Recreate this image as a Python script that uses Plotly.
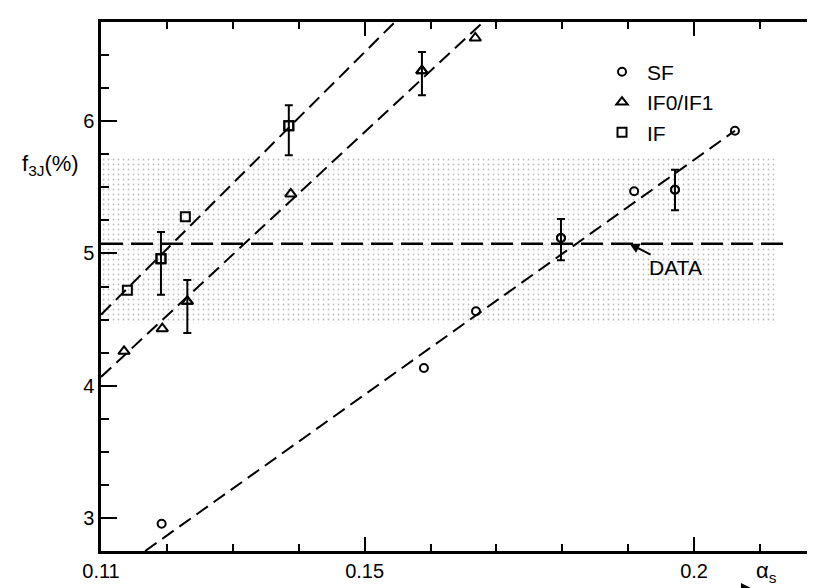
import plotly.graph_objects as go

# ---- data ----
sf_x = [0.1192, 0.1590, 0.1669, 0.1798, 0.1909, 0.1971, 0.2062]
sf_y = [2.956, 4.134, 4.563, 5.117, 5.470, 5.482, 5.928]
sf_err_up = [None, None, None, 0.143, None, 0.151, None]
sf_err_dn = [None, None, None, 0.169, None, 0.156, None]

if01_x = [0.1135, 0.1193, 0.1231, 0.1388, 0.1587, 0.1668]
if01_y = [4.260, 4.431, 4.638, 5.450, 6.382, 6.629]
if01_err_up = [None, None, 0.162, None, 0.141, None]
if01_err_dn = [None, None, 0.240, None, 0.186, None]

if_x = [0.1140, 0.1191, 0.1228, 0.1385]
if_y = [4.721, 4.960, 5.278, 5.966]
if_err_up = [None, 0.202, None, 0.154]
if_err_dn = [None, 0.272, None, 0.224]

# dashed fit lines (end points)
sf_fit_x = [0.1167, 0.2062]
sf_fit_y = [2.75, 5.928]
if01_fit_x = [0.110, 0.168]
if01_fit_y = [4.066, 6.75]
if_fit_x = [0.110, 0.1546]
if_fit_y = [4.537, 6.75]

data_value = 5.074
data_x = [0.110, 0.2138]
band_lo = 4.47
band_hi = 5.727
band_x = [0.110, 0.2122]

x_range = [0.110, 0.21956]
y_range = [2.75, 6.75]
x_tickvals = [0.11, 0.15, 0.2]
x_ticktext = ["0.11", "0.15", "0.2"]
x_minor = [0.12, 0.13, 0.14, 0.16, 0.17, 0.18, 0.19, 0.21]
y_tickvals = [3, 4, 5, 6]
y_ticktext = ["3", "4", "5", "6"]
y_minor = [2.75, 3.25, 3.5, 3.75, 4.25, 4.5, 4.75, 5.25, 5.5, 5.75, 6.25, 6.5, 6.75]

FONT = "Liberation Sans"
fig = go.Figure()

# stippled band
fig.add_trace(go.Scatter(
    x=[band_x[0], band_x[1], band_x[1], band_x[0], band_x[0]],
    y=[band_lo, band_lo, band_hi, band_hi, band_lo],
    fill="toself", mode="none", fillcolor="rgba(0,0,0,0)",
    fillpattern=dict(shape=".", fgcolor="#a0a0a0", bgcolor="rgba(0,0,0,0)",
                     fgopacity=0.7, size=5, solidity=0.1),
    showlegend=False, hoverinfo="skip"))

# DATA line (on y2 so the right-hand tick axis is rendered)
fig.add_trace(go.Scatter(x=data_x, y=[data_value, data_value], mode="lines",
                         line=dict(color="black", width=2.5, dash="22px,8px"),
                         yaxis="y2", showlegend=False, hoverinfo="skip"))

# fit lines
for fx, fy in [(sf_fit_x, sf_fit_y), (if01_fit_x, if01_fit_y), (if_fit_x, if_fit_y)]:
    fig.add_trace(go.Scatter(x=fx, y=fy, mode="lines",
                             line=dict(color="black", width=2, dash="14px,7px"),
                             showlegend=False, hoverinfo="skip"))

series = [
    ("SF", sf_x, sf_y, sf_err_up, sf_err_dn, "circle-open", 8),
    ("IF0/IF1", if01_x, if01_y, if01_err_up, if01_err_dn, "triangle-up-open", 10),
    ("IF", if_x, if_y, if_err_up, if_err_dn, "square-open", 9),
]
for name, xs, ys, eu, ed, sym, sz in series:
    idx = [i for i, e in enumerate(eu) if e is not None]
    fig.add_trace(go.Scatter(
        x=[xs[i] for i in idx], y=[ys[i] for i in idx], mode="markers",
        marker=dict(symbol=sym, size=sz, color="black", line=dict(width=2, color="black")),
        error_y=dict(type="data", symmetric=False,
                     array=[eu[i] for i in idx], arrayminus=[ed[i] for i in idx],
                     color="black", thickness=2, width=4),
        showlegend=False, hoverinfo="skip"))
    fig.add_trace(go.Scatter(
        x=xs, y=ys, mode="markers", name=name, legendgroup=name,
        marker=dict(symbol=sym, size=sz, color="black", line=dict(width=2, color="black"))))

axis_common = dict(showgrid=False, zeroline=False, ticks="inside", tickcolor="black",
                   tickwidth=2, linecolor="black", linewidth=2.5, automargin=False,
                   tickfont=dict(family=FONT, size=20, color="black"))

fig.update_layout(
    template="none",
    width=815, height=588,
    margin=dict(l=93, r=0, t=14, b=45, autoexpand=False),
    paper_bgcolor="white", plot_bgcolor="white",
    font=dict(family=FONT, size=20, color="black"),
    xaxis=dict(range=x_range, tickmode="array", tickvals=x_tickvals, ticktext=x_ticktext,
               ticklen=14, showline=True, mirror="ticks",
               minor=dict(tickmode="array", tickvals=x_minor, ticks="inside", ticklen=7,
                          tickwidth=2, tickcolor="black"),
               **axis_common),
    yaxis=dict(range=y_range, tickmode="array", tickvals=y_tickvals, ticktext=y_ticktext,
               ticklen=16, showline=True,
               minor=dict(tickmode="array", tickvals=y_minor, ticks="inside", ticklen=8,
                          tickwidth=2, tickcolor="black"),
               **axis_common),
    yaxis2=dict(range=y_range, overlaying="y", side="right", showline=False,
                showgrid=False, zeroline=False, ticks="inside", ticklen=12, tickwidth=2,
                tickcolor="black", tickmode="array", tickvals=y_tickvals,
                showticklabels=False, automargin=False,
                minor=dict(tickmode="array", tickvals=y_minor, ticks="inside", ticklen=5,
                           tickwidth=2, tickcolor="black")),
    legend=dict(x=0.687, y=0.944, xanchor="left", yanchor="top",
                traceorder="grouped", tracegroupgap=0, itemwidth=40,
                bgcolor="rgba(0,0,0,0)", font=dict(family=FONT, size=21, color="black")),
    annotations=[
        dict(x=0.1902, y=data_value, xref="x", yref="y", text="DATA",
             showarrow=True, ax=46, ay=24, arrowhead=2, arrowsize=1, arrowwidth=2,
             arrowcolor="black", font=dict(family=FONT, size=21, color="black")),
        dict(x=-0.0706, y=0.7297, xref="paper", yref="paper",
             xanchor="center", yanchor="middle",
             text="f<sub>3J</sub>(%)", showarrow=False,
             font=dict(family=FONT, size=22, color="black")),
        # arrow under the x axis pointing at the axis title
        dict(x=0.903, y=-0.0718, xref="paper", yref="paper",
             text="", showarrow=True, ax=-68, ay=0,
             arrowhead=2, arrowsize=1.2, arrowwidth=2, arrowcolor="black"),
        dict(x=0.9044, y=-0.0397, xref="paper", yref="paper",
             xanchor="left", yanchor="middle", text="α<sub>s</sub>", showarrow=False,
             font=dict(family=FONT, size=22, color="black")),
    ],
)

fig.write_html("out.html")
